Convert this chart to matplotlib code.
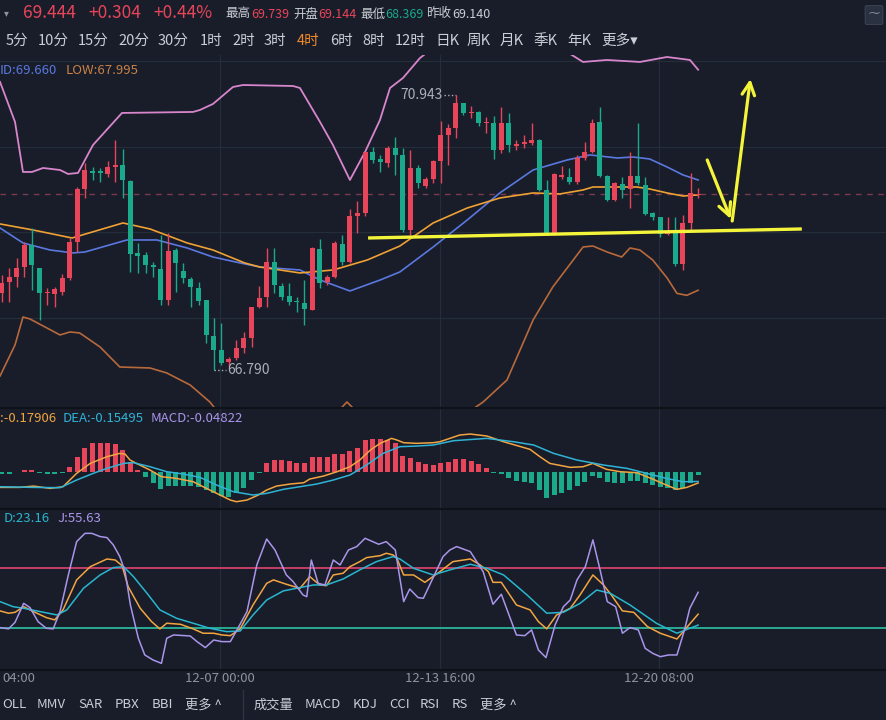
import matplotlib
matplotlib.use('Agg')
import matplotlib.pyplot as plt
from matplotlib.patches import FancyBboxPatch

plt.rcParams['font.family'] = ['Noto Sans CJK SC', 'DejaVu Sans']

# ---------------- data ----------------
opens = [67.949, 68.125, 68.200, 68.351, 68.679, 68.326, 67.949, 67.939, 67.974, 68.175,
         68.729, 69.519, 69.801, 69.801, 69.746, 69.861, 69.887, 69.650, 68.563, 68.528,
         68.377, 68.311, 67.848, 68.603, 68.291, 68.165, 68.024, 67.848, 67.305, 67.093,
         66.917, 66.967, 67.118, 67.269, 67.748, 67.898, 68.417, 68.060, 67.908, 67.838,
         67.808, 67.697, 68.613, 68.125, 68.200, 68.694, 68.427, 69.117, 69.157, 70.088,
         69.982, 69.912, 70.138, 70.037, 68.905, 69.836, 69.569, 69.670, 69.952, 70.339,
         70.440, 70.818, 70.666, 70.692, 70.516, 70.526, 70.113, 70.526, 70.173, 70.204,
         70.224, 70.264, 69.509, 68.855, 69.710, 69.710, 69.635, 69.987, 70.088, 70.541,
         69.720, 69.358, 69.600, 69.519, 69.720, 69.585, 69.157, 69.106, 68.845, 68.880,
         68.392, 69.006, 69.434]
highs = [68.226, 68.326, 68.477, 68.729, 68.930, 68.326, 68.024, 68.050, 68.241, 68.779,
         69.559, 69.912, 69.861, 69.836, 69.952, 70.264, 70.123, 69.660, 68.704, 68.578,
         68.427, 68.830, 68.855, 68.628, 68.402, 68.200, 68.125, 67.848, 67.571, 67.496,
         66.993, 67.244, 67.370, 67.748, 68.060, 68.628, 68.628, 68.100, 68.100, 67.898,
         68.150, 68.653, 68.764, 68.226, 68.744, 68.830, 69.217, 69.348, 70.088, 70.163,
         70.037, 70.173, 70.314, 70.138, 70.113, 69.886, 69.710, 69.962, 70.556, 70.506,
         70.943, 70.828, 70.777, 70.707, 70.616, 70.626, 70.767, 70.666, 70.264, 70.339,
         70.526, 70.274, 69.660, 69.761, 69.871, 69.836, 70.037, 70.239, 70.576, 70.767,
         69.736, 69.635, 69.700, 70.088, 70.526, 69.710, 69.182, 69.106, 69.106, 69.096,
         69.132, 69.761, 69.534]
lows = [67.823, 67.823, 68.050, 68.200, 67.999, 67.546, 67.773, 67.748, 67.924, 68.150,
        68.578, 69.383, 69.660, 69.635, 69.710, 69.635, 69.383, 68.276, 68.251, 68.251,
        68.200, 67.773, 67.773, 67.974, 68.100, 67.748, 67.773, 67.194, 66.790, 66.867,
        66.842, 66.942, 67.043, 67.144, 67.722, 67.737, 67.949, 67.848, 67.773, 67.672,
        67.471, 67.697, 68.024, 68.075, 68.175, 68.377, 68.402, 68.855, 69.117, 69.912,
        69.786, 69.861, 69.736, 68.880, 68.830, 69.534, 69.534, 69.620, 69.620, 69.886,
        70.289, 70.641, 70.591, 70.475, 70.365, 69.972, 70.063, 70.088, 70.113, 70.138,
        70.188, 69.499, 68.830, 68.830, 69.670, 69.600, 69.600, 69.962, 70.063, 69.710,
        69.348, 69.348, 69.383, 69.232, 69.585, 69.132, 69.056, 68.804, 68.830, 68.362,
        68.301, 68.880, 69.383]
closes = [68.100, 68.200, 68.326, 68.679, 68.377, 67.949, 67.974, 68.009, 68.175, 68.729,
          69.519, 69.811, 69.761, 69.761, 69.851, 69.887, 69.660, 68.543, 68.513, 68.377,
          68.341, 67.848, 68.593, 68.402, 68.175, 68.039, 67.838, 67.320, 67.093, 66.892,
          66.952, 67.118, 67.269, 67.737, 67.873, 68.417, 68.075, 67.898, 67.823, 67.823,
          67.707, 68.628, 68.100, 68.200, 68.704, 68.427, 69.117, 69.167, 70.088, 69.962,
          69.937, 70.138, 70.037, 68.905, 69.836, 69.610, 69.670, 69.952, 70.339, 70.440,
          70.818, 70.677, 70.692, 70.516, 70.541, 70.113, 70.526, 70.188, 70.204, 70.239,
          70.264, 69.509, 68.855, 69.746, 69.736, 69.635, 69.987, 70.088, 70.526, 69.720,
          69.358, 69.610, 69.509, 69.720, 69.610, 69.147, 69.096, 68.845, 68.880, 68.392,
          69.006, 69.459, 69.444]

boll_up_x = [-0.22, 1.76, 2.81, 4.0, 5.46, 7.7, 8.76, 10.08, 12.06, 15.89,
             25.27, 26.19, 27.91, 30.55, 31.88, 38.48, 39.4, 42.05, 43.76, 46.0,
             48.0, 49.97, 51.3, 53.01, 55.26, 56.97, 61.47, 65.83, 70.19, 72.83,
             74.68, 76.79, 79.96, 84.32, 87.89, 90.92, 92.0]
boll_up_y = [71.140, 70.536, 69.781, 69.781, 69.841, 69.811, 69.751, 69.766, 70.188, 70.672,
             70.687, 70.717, 70.808, 71.064, 71.094, 71.079, 71.049, 70.536, 70.188, 69.660,
             70.083, 70.566, 71.049, 71.200, 71.502, 71.653, 71.955, 72.197, 72.076, 71.789,
             71.593, 71.442, 71.472, 71.442, 71.517, 71.472, 71.325]
boll_mid_x = [-0.22, 2.81, 6.38, 9.42, 11.0, 16.55, 20.5, 24.5, 27.9, 31.5,
              34.1, 39.4, 42.05, 46.0, 50.0, 52.6, 57.0, 61.5, 65.8, 70.2,
              74.7, 77.7, 81.3, 83.4, 85.6, 87.9, 90.0, 92.0]
boll_mid_y = [68.935, 68.709, 68.603, 68.558, 68.573, 68.754, 68.754, 68.633, 68.497, 68.407,
              68.346, 68.301, 68.150, 67.984, 68.150, 68.271, 68.648, 69.056, 69.464, 69.811,
              69.962, 70.038, 69.992, 70.007, 69.977, 69.856, 69.736, 69.660]
boll_low_x = [-0.22, 1.76, 2.81, 3.74, 7.7, 9.02, 10.3, 13.0, 15.6, 19.6,
              21.8, 24.9, 27.5, 31.5, 39.4, 43.4, 45.6, 48.0, 52.6, 59.2,
              63.6, 66.75, 70.2, 72.8, 74.7, 76.8, 78.1, 79.96, 81.9, 83.0,
              84.3, 86.0, 87.9, 89.2, 90.5, 92.0]
boll_low_y = [66.700, 67.169, 67.591, 67.561, 67.320, 67.365, 67.350, 67.138, 66.836, 66.821,
              66.746, 66.564, 66.308, 65.734, 65.553, 66.036, 66.308, 66.036, 65.372, 65.960,
              66.308, 66.640, 67.546, 68.044, 68.331, 68.648, 68.663, 68.573, 68.497, 68.633,
              68.603, 68.452, 68.180, 67.948, 67.918, 67.995]
ma_x = [-0.22, 4.13, 9.29, 16.02, 19.6, 24.5, 27.9, 32.1, 34.1, 39.4,
        43.8, 48.3, 52.6, 57.0, 61.5, 65.8, 70.2, 73.75, 76.8, 78.1,
        81.3, 83.9, 85.6, 87.9, 90.0, 92.0]
ma_y = [68.996, 68.905, 68.784, 69.011, 68.920, 68.709, 68.603, 68.407, 68.346, 68.256,
        68.301, 68.452, 68.663, 69.011, 69.237, 69.388, 69.464, 69.449, 69.509, 69.554,
        69.554, 69.554, 69.524, 69.464, 69.418, 69.434]

macd_hist = [-0.03, -0.03, -0.005, 0.02, 0.02, -0.02, -0.03, -0.03, -0.02,
             0.079, 0.238, 0.381, 0.45, 0.45, 0.45, 0.434, 0.344, 0.159, 0.026,
             -0.09, -0.175, -0.28, -0.228, -0.228, -0.228, -0.228, -0.238, -0.291, -0.344,
             -0.381, -0.397, -0.344, -0.265, -0.132, -0.016,
             0.132, 0.185, 0.185, 0.175, 0.143, 0.132, 0.228, 0.228, 0.228, 0.275,
             0.275, 0.333, 0.37, 0.503, 0.519, 0.513, 0.503, 0.46, 0.249, 0.212, 0.148,
             0.12, 0.106, 0.143, 0.159, 0.196, 0.196, 0.175, 0.116, 0.063,
             -0.026, -0.037, -0.106, -0.148, -0.159, -0.185, -0.291, -0.423, -0.37, -0.333,
             -0.291, -0.228, -0.159, -0.069, -0.106, -0.159, -0.175, -0.185, -0.148, -0.148,
             -0.185, -0.212, -0.249, -0.265, -0.291, -0.265, -0.175, -0.048]
dif_x = [-0.22, 2.4, 4.2, 6.4, 8.1, 9.9, 11.7, 13.9, 15.6, 16.3,
         16.95, 17.8, 19.6, 21.1, 23.1, 25.3, 26.6, 28.4, 30.2, 31.0,
         32.4, 33.9, 35.0, 36.3, 38.1, 39.9, 40.7, 42.5, 44.3, 46.0,
         47.3, 48.7, 50.0, 51.5, 52.2, 53.1, 54.8, 57.0, 57.9, 60.5,
         61.9, 64.1, 66.3, 69.8, 71.1, 72.4, 75.1, 76.8, 78.1, 79.9,
         81.7, 83.9, 86.1, 87.8, 89.2, 90.5, 92.0]
dif_y = [-0.249, -0.249, -0.228, -0.265, -0.238, -0.026, 0.132, 0.238, 0.291, 0.280,
         0.185, 0.132, 0.026, -0.079, -0.106, -0.159, -0.238, -0.344, -0.450, -0.476,
         -0.450, -0.370, -0.291, -0.228, -0.196, -0.175, -0.116, -0.069, 0.0, 0.079,
         0.185, 0.344, 0.450, 0.529, 0.503, 0.460, 0.450, 0.460, 0.476, 0.582,
         0.598, 0.566, 0.476, 0.354, 0.238, 0.132, 0.069, 0.079, 0.132, 0.037,
         0.0, -0.016, -0.122, -0.212, -0.280, -0.249, -0.179]
dea_x = [-0.22, 4.2, 7.7, 9.9, 12.1, 13.9, 16.1, 17.4, 19.6, 21.8,
         24.0, 26.2, 28.4, 30.6, 33.2, 35.0, 37.2, 39.4, 41.6, 43.8,
         46.0, 48.2, 50.4, 52.6, 54.8, 57.0, 59.7, 64.1, 67.6, 70.3,
         72.9, 76.0, 79.5, 82.6, 85.2, 87.8, 90.0, 92.0]
dea_y = [-0.238, -0.249, -0.254, -0.132, -0.026, 0.053, 0.132, 0.143, 0.079, 0.0,
         -0.037, -0.090, -0.212, -0.317, -0.370, -0.344, -0.280, -0.238, -0.196, -0.132,
         -0.053, 0.106, 0.291, 0.397, 0.407, 0.423, 0.492, 0.529, 0.476, 0.423,
         0.291, 0.185, 0.106, 0.053, -0.026, -0.106, -0.159, -0.155]

k_x = [-0.22, 0.9, 1.76, 2.9, 4.2, 5.9, 7.0, 8.1, 9.9, 11.7,
       13.9, 15.0, 15.9, 16.7, 18.3, 19.8, 20.9, 21.8, 23.6, 25.3,
       26.6, 28.0, 29.1, 30.2, 31.5, 33.2, 35.0, 35.9, 37.6, 39.4,
       40.7, 42.0, 42.9, 43.8, 45.1, 46.0, 47.3, 48.2, 50.0, 50.8,
       51.7, 52.2, 53.1, 54.4, 55.9, 57.9, 59.6, 61.9, 63.2, 64.3,
       64.9, 66.0, 68.0, 69.8, 70.9, 72.0, 73.3, 75.1, 76.4, 78.1,
       79.5, 80.6, 82.0, 83.5, 85.3, 87.0, 89.2, 90.1, 92.0]
k_y = [37.2, 34.9, 35.8, 41.4, 36.5, 30.6, 28.3, 38.2, 67.9, 81.0,
       88.6, 87.6, 82.0, 61.3, 39.8, 26.6, 19.4, 25.0, 24.0, 19.4,
       15.1, 15.1, 13.4, 12.7, 19.4, 43.1, 64.5, 67.9, 63.6, 59.6,
       71.2, 62.9, 62.2, 72.8, 74.5, 81.0, 86.0, 90.0, 91.9, 94.3,
       92.6, 89.3, 72.8, 72.8, 65.5, 76.1, 86.0, 88.6, 82.7, 76.1,
       65.5, 65.5, 43.1, 38.2, 26.6, 19.4, 33.2, 39.8, 53.0, 72.8,
       62.9, 52.3, 37.2, 35.8, 21.7, 15.1, 9.4, 17.4, 33.98]
d_x = [-0.22, 1.5, 2.9, 5.1, 7.3, 8.6, 10.8, 13.0, 14.75, 16.1,
       17.4, 19.2, 20.9, 23.1, 25.3, 27.5, 29.7, 31.5, 33.2, 35.0,
       37.2, 39.4, 41.2, 42.9, 45.1, 47.3, 49.5, 51.7, 52.6, 54.4,
       57.0, 59.2, 61.9, 64.1, 66.3, 69.4, 72.0, 74.2, 76.4, 78.6,
       80.4, 83.0, 86.5, 89.2, 92.0]
d_y = [46.4, 41.4, 39.8, 36.5, 33.2, 38.2, 59.6, 72.8, 80.1, 81.0,
       71.2, 54.6, 38.2, 29.9, 25.0, 20.0, 16.7, 17.3, 33.2, 48.0,
       57.0, 60.3, 62.9, 62.9, 68.8, 77.8, 86.0, 91.0, 88.6, 79.4,
       72.8, 77.8, 83.4, 79.4, 72.8, 53.0, 34.9, 35.8, 44.7, 57.9,
       54.6, 43.1, 24.9, 15.1, 23.16]
j_x = [-0.22, 0.9, 1.76, 2.9, 3.74, 4.8, 5.9, 6.8, 7.7, 8.8,
       9.9, 11.0, 11.9, 13.0, 13.9, 14.75, 15.6, 16.3, 17.0, 18.05,
       18.9, 20.0, 21.1, 21.8, 22.7, 24.9, 25.8, 26.9, 28.0, 29.1,
       30.2, 31.0, 32.4, 33.7, 35.0, 36.1, 37.6, 38.5, 39.8, 40.3,
       40.9, 41.8, 42.7, 43.8, 44.7, 45.8, 46.9, 48.0, 49.8, 50.8,
       52.0, 53.1, 53.9, 55.0, 55.7, 57.0, 58.3, 59.2, 60.1, 61.9,
       63.6, 64.9, 66.0, 67.1, 68.0, 69.1, 70.0, 70.9, 71.9, 73.1,
       74.2, 75.1, 76.0, 77.1, 78.1, 79.1, 80.0, 81.1, 82.0, 83.0,
       84.1, 85.0, 86.0, 87.0, 88.1, 89.2, 90.2, 90.9, 92.0]
j_y = [20.7, 19.4, 25.9, 44.7, 40.5, 26.6, 20.0, 19.4, 36.5, 72.8,
       105.8, 114.0, 114.0, 110.8, 109.8, 102.5, 91.0, 76.1, 43.1, 10.1,
       -6.4, -11.4, -14.7, 10.1, 13.4, 12.4, 6.8, 0.9, 8.4, 6.8,
       6.8, 17.3, 36.5, 82.7, 108.4, 97.5, 72.8, 66.2, 53.0, 51.3,
       87.6, 64.5, 62.9, 87.6, 82.7, 97.5, 100.9, 109.1, 103.2, 105.8,
       97.5, 46.4, 58.9, 50.4, 49.7, 70.2, 91.0, 97.5, 100.9, 95.9,
       76.1, 43.8, 53.7, 31.5, 13.4, 12.7, 18.4, -1.5, -9.0, 23.3,
       41.4, 48.0, 67.9, 81.0, 107.5, 76.1, 46.4, 41.4, 15.1, 20.7,
       18.4, 0.2, -4.8, -8.1, -6.4, -6.4, 18.4, 39.8, 55.63]

kdj_levels = [80, 20]
last_price = 69.444
high_mark = (60, 70.943)
low_mark = (28, 66.790)

# hand-drawn annotation (index, price)
support_x = [48.4, 105.7]
support_y = [68.784, 68.920]
arrow_down = [(93.2, 69.962), (96.3, 69.071)]
arrow_up = [(96.5, 69.041), (98.9, 71.185)]

time_ticks = [28.84, 57.9, 86.83]
time_labels = ['12-07 00:00', '12-13 16:00', '12-20 08:00']

periods = ['5分', '10分', '15分', '20分', '30分', '1时', '2时', '3时', '4时', '6时',
           '8时', '12时', '日K', '周K', '月K', '季K', '年K', '更多▾']
period_x = [6, 38, 78, 118, 158, 200, 232, 264, 297, 330, 362, 395, 435, 467, 500,
            533, 567, 601]
main_tools = ['OLL', 'MMV', 'SAR', 'PBX', 'BBI', '更多 ^']
main_tools_x = [2, 37, 78, 115, 152, 185]
sub_tools = ['成交量', 'MACD', 'KDJ', 'CCI', 'RSI', 'RS', '更多 ^']
sub_tools_x = [254, 305, 353, 389, 420, 452, 480]

# ---------------- style ----------------
W, H = 887, 720
BG = '#181d29'
GRID = '#252c3a'
SEP = '#0d1118'
UP = '#e8455a'
DN = '#1aa98a'
TXT = '#c9cdd5'
GRAY = '#8c929e'
YEL = '#f4f43a'

fig = plt.figure(figsize=(W / 100, H / 100), dpi=100, facecolor=BG)


def px_axes(top, bottom):
    return fig.add_axes([0, 1 - bottom / H, 1, (bottom - top) / H])


def ftext(x, y, s, **kw):
    kw.setdefault('va', 'center')
    kw.setdefault('ha', 'left')
    fig.text(x / W, 1 - y / H, s, **kw)


XL = (-0.225, 116.95)
ax = px_axes(55, 407)
axm = px_axes(408, 508)
axk = px_axes(509, 669)
for a in (ax, axm, axk):
    a.set_facecolor(BG)
    a.set_xlim(*XL)
    a.set_xticks([])
    a.set_yticks([])
    for s in a.spines.values():
        s.set_visible(False)
    for t in time_ticks:
        a.axvline(t, color=GRID, lw=0.9, zorder=0)

ax.set_ylim(66.232, 71.547)
axm.set_ylim(-0.576, 1.011)
axk.set_ylim(-20.3, 138.1)

# panel separators
for yy in (407.5, 508.5, 669.5):
    fig.add_artist(plt.Line2D([0, 1], [1 - yy / H] * 2, color=SEP, lw=1.5))

# main grid
for gp in (71.457, 70.158, 68.867, 67.576):
    ax.axhline(gp, color=GRID, lw=0.9, zorder=0)

# candles
n = len(closes)
for i in range(n):
    o, h, l, c = opens[i], highs[i], lows[i], closes[i]
    col = UP if c >= o else DN
    ax.vlines(i, l, h, color=col, lw=1.0, zorder=3)
    lo, hi = min(o, c), max(o, c)
    ax.bar(i, max(hi - lo, 0.014), bottom=lo, width=0.66, color=col, lw=0, zorder=4)

# indicator lines
ax.plot(boll_up_x, boll_up_y, color='#d886cc', lw=1.3, zorder=2)
ax.plot(boll_mid_x, boll_mid_y, color='#5a78e0', lw=1.2, zorder=2)
ax.plot(boll_low_x, boll_low_y, color='#b8693c', lw=1.2, zorder=2)
ax.plot(ma_x, ma_y, color='#efa134', lw=1.2, zorder=2)

ax.axhline(last_price, color='#7d3a4e', lw=1.0, ls=(0, (4, 4)), zorder=1)

# high / low marks
ax.plot([high_mark[0] - 1.6, high_mark[0]], [high_mark[1]] * 2, ls=':', color='#aab0bb', lw=1)
ax.text(high_mark[0] - 1.8, high_mark[1], f'{high_mark[1]:.3f}', color='#aab0bb',
        fontsize=10, ha='right', va='center')
ax.plot([low_mark[0], low_mark[0] + 1.6], [low_mark[1]] * 2, ls=':', color='#aab0bb', lw=1)
ax.text(low_mark[0] + 1.8, low_mark[1], f'{low_mark[1]:.3f}', color='#aab0bb',
        fontsize=10, ha='left', va='center')

# yellow annotations
ax.plot(support_x, support_y, color=YEL, lw=2.4, solid_capstyle='butt', zorder=6)
for (x0, y0), (x1, y1) in (arrow_down, arrow_up):
    ax.annotate('', xy=(x1, y1), xytext=(x0, y0),
                arrowprops=dict(arrowstyle='->,head_length=0.9,head_width=0.45',
                                color=YEL, lw=2.3, shrinkA=0, shrinkB=0), zorder=6)

# MACD panel
for i, v in enumerate(macd_hist):
    axm.bar(i, v, width=0.66, color=UP if v >= 0 else DN, lw=0, zorder=2)
axm.plot(dif_x, dif_y, color='#f2a541', lw=1.1, zorder=3)
axm.plot(dea_x, dea_y, color='#2fb3d6', lw=1.1, zorder=3)

# KDJ panel
axk.axhline(kdj_levels[0], color='#d2416a', lw=1.3, zorder=1)
axk.axhline(kdj_levels[1], color='#2bb59a', lw=1.3, zorder=1)
axk.plot(k_x, k_y, color='#f2a541', lw=1.1, zorder=3)
axk.plot(d_x, d_y, color='#29b6cf', lw=1.1, zorder=3)
axk.plot(j_x, j_y, color='#a995ea', lw=1.1, zorder=3)

# ---------------- texts ----------------
ftext(4, 13, '▾', color=GRAY, fontsize=7)
ftext(23, 13, '69.444', color=UP, fontsize=12.5)
ftext(88, 13, '+0.304', color=UP, fontsize=12.5)
ftext(153, 13, '+0.44%', color=UP, fontsize=12.5)
hdr = [(225, '最高', TXT), (251, '69.739', UP), (293, '开盘', TXT), (318, '69.144', UP),
       (360, '最低', TXT), (385, '68.369', DN), (426, '昨收', TXT), (452, '69.140', TXT)]
for x, s, c in hdr:
    ftext(x, 14, s, color=c, fontsize=9)
fig.add_artist(FancyBboxPatch((867 / W, 1 - 23 / H), 14 / W, 16 / H,
                              boxstyle='round,pad=0.002', transform=fig.transFigure,
                              fc='#2a3140', ec='#3a4252', lw=0.8))
ftext(874, 14, '⁓', color=GRAY, fontsize=8, ha='center')

for x, s in zip(period_x, periods):
    ftext(x, 41, s, color='#f08a2a' if s == '4时' else TXT, fontsize=10.5)

ftext(0, 71, 'ID:69.660', color='#5a78e0', fontsize=9.5)
ftext(66, 71, 'LOW:67.995', color='#c98145', fontsize=9.5)
ftext(0, 418, ':-0.17906', color='#f2a541', fontsize=9.5)
ftext(63, 418, 'DEA:-0.15495', color='#2fb3d6', fontsize=9.5)
ftext(151, 418, 'MACD:-0.04822', color='#a995ea', fontsize=9.5)
ftext(4, 519, 'D:23.16', color='#29b6cf', fontsize=9.5)
ftext(57, 519, 'J:55.63', color='#a995ea', fontsize=9.5)

# time axis
ftext(2, 678, '04:00', color=GRAY, fontsize=9.5)
for t, s in zip(time_ticks, time_labels):
    xpx = 1.7 + t * 7.57
    ftext(xpx, 678, s, color=GRAY, fontsize=9.5, ha='center')

# bottom toolbar
for x, s in zip(main_tools_x, main_tools):
    ftext(x, 705, s, color=TXT, fontsize=9.5)
for x, s in zip(sub_tools_x, sub_tools):
    ftext(x, 705, s, color=TXT, fontsize=9.5)
fig.add_artist(plt.Line2D([243 / W] * 2, [0, 1 - 690 / H], color='#2c3342', lw=1))

fig.savefig('out.png', dpi=100, facecolor=BG)
